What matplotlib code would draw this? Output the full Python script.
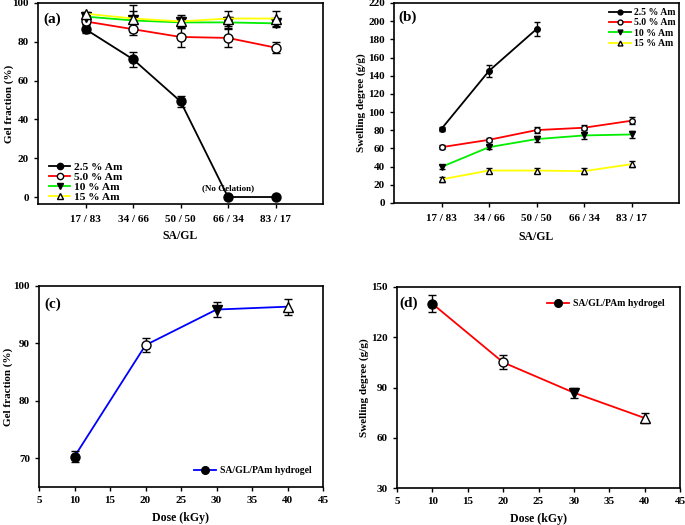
import matplotlib.pyplot as plt
from matplotlib.lines import Line2D

plt.rcParams['font.family'] = 'Liberation Serif'
plt.rcParams['font.weight'] = 'bold'

ratios = ["17 / 83", "34 / 66", "50 / 50", "66 / 34", "83 / 17"]
series = ["2.5 % Am", "5.0 % Am", "10 % Am", "15 % Am"]
colors = ["black", "red", "#00ee00", "yellow"]
markers = ["o", "o", "v", "^"]
faces = ["black", "white", "black", "white"]

gel_a = [[86.5, 71.0, 49.3, 0, 0],
         [90.5, 86.5, 82.5, 82.0, 77.0],
         [93.0, 91.0, 90.0, 90.0, 89.5],
         [94.5, 92.0, 90.5, 92.0, 92.0]]
gel_a_err = [[2.0, 4.0, 3.0, 0, 0],
             [1.5, 3.0, 5.0, 4.5, 3.0],
             [1.0, 5.0, 3.0, 3.0, 2.0],
             [1.0, 7.0, 3.5, 4.0, 4.0]]

swell_b = [[81.6, 145.3, 191.3, None, None],
           [61.4, 69.5, 80.2, 82.8, 90.5],
           [39.7, 61.4, 70.3, 74.3, 75.4],
           [26.0, 35.7, 35.7, 35.0, 42.7]]
swell_b_err = [[2.5, 7.0, 8.0, None, None],
               [2.0, 2.5, 3.0, 3.0, 4.0],
               [2.0, 2.0, 3.0, 4.0, 4.0],
               [3.0, 3.0, 3.0, 3.0, 3.0]]

dose = [10, 20, 30, 40]
gel_c = [70.3, 89.7, 95.9, 96.4]
gel_c_err = [0.9, 1.2, 1.3, 1.4]
swell_d = [140.0, 105.0, 86.9, 71.8]
swell_d_err = [5.0, 4.2, 3.0, 2.7]

fig = plt.figure(figsize=(6.85, 5.25), dpi=100)
W, H = 685, 525
FS = 8
LFS = 8


def box(l, t, r, b):
    return [l / W, (H - b) / H, (r - l) / W, (b - t) / H]


def style(ax):
    for s in ax.spines.values():
        s.set_linewidth(1.2)
    ax.tick_params(labelsize=FS, width=1, length=3)
    for lab in ax.get_xticklabels() + ax.get_yticklabels():
        lab.set_fontweight('bold')


def handles(cols, ms):
    return [Line2D([], [], color=c, lw=1.3, marker=m, mfc=f, mec="black", ms=ms)
            for c, m, f in zip(cols, markers, faces)]


# ===== (a) =====
ax = fig.add_axes(box(38, 3, 323, 204))
x = list(range(1, 6))
for i in range(4):
    ax.errorbar(x, gel_a[i], yerr=gel_a_err[i], color=colors[i], lw=1.3,
                marker=markers[i], mfc=faces[i], mec="black", ms=6.5,
                ecolor="black", elinewidth=1, capsize=3)
ax.set_xlim(0, 6)
ax.set_ylim(-3.6, 100)
ax.set_yticks([0, 20, 40, 60, 80, 100])
ax.set_xticks(x)
ax.set_xticklabels(ratios)
ax.tick_params(axis='x', length=0, pad=5)
ax.set_xlabel("SA/GL", fontsize=LFS + 0.5, fontweight='bold')
ax.xaxis.set_label_coords(0.5, -0.13)
ax.set_ylabel("Gel fraction (%)", fontsize=LFS, fontweight='bold')
ax.yaxis.set_label_coords(-0.085, 0.5)
ax.text(0.02, 0.92, "(a)", transform=ax.transAxes, fontsize=11,
        fontweight='bold', va='center')
ax.text(4, 4.6, "(No Gelation)", ha='center', va='center', fontsize=6.5,
        fontweight='bold', zorder=5)
ax.legend(handles(colors, 4.5), series, loc='lower left', frameon=False,
          fontsize=8.2, handlelength=1.9, handletextpad=0.3, labelspacing=0.0,
          bbox_to_anchor=(0.03, 0.0), borderaxespad=0, borderpad=0.2)
style(ax)

# ===== (b) =====
ax = fig.add_axes(box(394, 3, 679, 203))
for i in range(4):
    xs = [xx for xx, v in zip(x, swell_b[i]) if v is not None]
    ys = [v for v in swell_b[i] if v is not None]
    es = [e for e in swell_b_err[i] if e is not None]
    ax.errorbar(xs, ys, yerr=es, color=colors[i], lw=1.3,
                marker=markers[i], mfc=faces[i], mec="black", ms=4,
                ecolor="black", elinewidth=1, capsize=2.5)
ax.set_xlim(0, 6)
ax.set_ylim(0, 220)
ax.set_yticks(range(0, 221, 20))
ax.set_xticks(x)
ax.set_xticklabels(ratios)
ax.tick_params(axis='x', length=0, pad=5)
ax.set_xlabel("SA/GL", fontsize=LFS + 0.5, fontweight='bold')
ax.xaxis.set_label_coords(0.5, -0.14)
ax.set_ylabel("Swelling degree (g/g)", fontsize=LFS, fontweight='bold')
ax.yaxis.set_label_coords(-0.1, 0.5)
ax.text(0.014, 0.927, "(b)", transform=ax.transAxes, fontsize=11,
        fontweight='bold', va='center')
ax.legend(handles(colors, 3.5), series, loc='upper right', frameon=False,
          fontsize=7, handlelength=2.3, handletextpad=0.3, labelspacing=0.15,
          bbox_to_anchor=(0.995, 0.985), borderaxespad=0, borderpad=0.2)
style(ax)

pm = ["o", "o", "v", "^"]
pf = ["black", "white", "black", "white"]

# ===== (c) =====
ax = fig.add_axes(box(39, 286, 323, 487))
ax.plot(dose, gel_c, color="blue", lw=1.3, zorder=1)
for d, g, e, m, f in zip(dose, gel_c, gel_c_err, pm, pf):
    ax.errorbar([d], [g], yerr=[e], marker=m, mfc=f, mec="black", ms=6.5,
                ecolor="black", elinewidth=1, capsize=3, ls='none', zorder=2)
leg = [Line2D([], [], color="blue", lw=1.3, marker="o", mfc="black",
              mec="black", ms=5.5)]
ax.set_xlim(5, 45)
ax.set_ylim(65, 100)
ax.set_xticks(range(5, 46, 5))
ax.set_yticks([70, 80, 90, 100])
ax.set_xlabel("Dose (kGy)", fontsize=LFS + 0.5, fontweight='bold')
ax.xaxis.set_label_coords(0.5, -0.125)
ax.set_ylabel("Gel fraction (%)", fontsize=LFS, fontweight='bold')
ax.yaxis.set_label_coords(-0.09, 0.5)
ax.text(0.02, 0.91, "(c)", transform=ax.transAxes, fontsize=11,
        fontweight='bold', va='center')
ax.legend(leg, ["SA/GL/PAm hydrogel"], loc='lower right', frameon=False,
          fontsize=7, handlelength=2.3, handletextpad=0.4,
          bbox_to_anchor=(0.975, 0.04), borderaxespad=0)
style(ax)

# ===== (d) =====
ax = fig.add_axes(box(397, 287, 680, 488))
ax.plot(dose, swell_d, color="red", lw=1.3, zorder=1)
for d, s, e, m, f in zip(dose, swell_d, swell_d_err, pm, pf):
    ax.errorbar([d], [s], yerr=[e], marker=m, mfc=f, mec="black", ms=6.5,
                ecolor="black", elinewidth=1, capsize=3, ls='none', zorder=2)
leg = [Line2D([], [], color="red", lw=1.3, marker="o", mfc="black",
              mec="black", ms=5.5)]
ax.set_xlim(5, 45)
ax.set_ylim(30, 150)
ax.set_xticks(range(5, 46, 5))
ax.set_yticks([30, 60, 90, 120, 150])
ax.set_xlabel("Dose (kGy)", fontsize=LFS + 0.5, fontweight='bold')
ax.xaxis.set_label_coords(0.5, -0.125)
ax.set_ylabel("Swelling degree (g/g)", fontsize=LFS, fontweight='bold')
ax.yaxis.set_label_coords(-0.1, 0.5)
ax.text(0.01, 0.92, "(d)", transform=ax.transAxes, fontsize=11,
        fontweight='bold', va='center')
ax.legend(leg, ["SA/GL/PAm hydrogel"], loc='upper right', frameon=False,
          fontsize=7, handlelength=2.3, handletextpad=0.4,
          bbox_to_anchor=(0.96, 0.96), borderaxespad=0)
style(ax)

fig.savefig("out.png", dpi=100)
